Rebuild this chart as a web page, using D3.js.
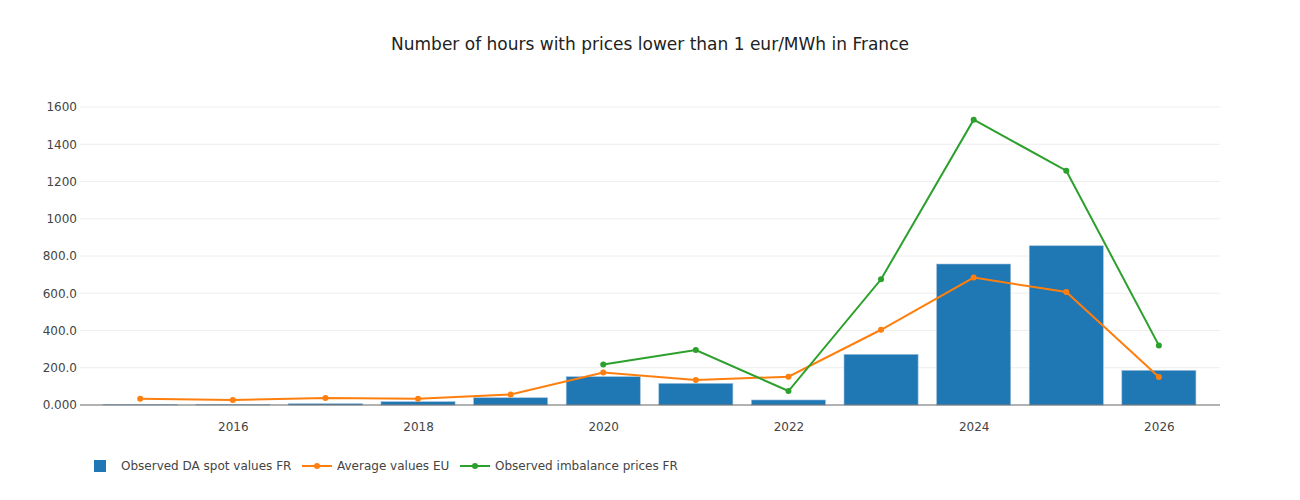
<!DOCTYPE html>
<html>
<head>
<meta charset="utf-8">
<script src="https://cdn.jsdelivr.net/npm/d3@7"></script>
<style>
  body { margin: 0; background: #fff; }
  svg text { font-family: "DejaVu Sans", Verdana, sans-serif; }
</style>
</head>
<body>
<svg id="chart" width="1300" height="500"></svg>
<script>
// data
var years = [2015, 2016, 2017, 2018, 2019, 2020, 2021, 2022, 2023, 2024, 2025, 2026];
var daSpotFR = [3, 3, 7, 18, 39, 152, 116, 27, 272, 757, 855, 186];
var averageEU = [34, 27, 38, 34, 57, 175, 134, 152, 404, 684, 607, 150];
var imbalanceFR = [null, null, null, null, null, 218, 295, 75, 675, 1532, 1258, 320];
var yTicks = [0, 200, 400, 600, 800, 1000, 1200, 1400, 1600];
var yTickLabels = ["0.000", "200.0", "400.0", "600.0", "800.0", "1000", "1200", "1400", "1600"];
var xTicks = [2016, 2018, 2020, 2022, 2024, 2026];
var seriesNames = ["Observed DA spot values FR", "Average values EU", "Observed imbalance prices FR"];
var seriesColors = ["#1f77b4", "#ff7f0e", "#2ca02c"];

var svg = d3.select("#chart")
var plotLeft = 80, plotRight = 1220, plotTop = 107, plotBottom = 405

var x = d3.scaleLinear().domain([2014.35, 2026.66]).range([plotLeft, plotRight])
var y = d3.scaleLinear().domain([0, 1600]).range([plotBottom, plotTop])

// title
svg.append("text")
    .attr("x", 650).attr("y", 50)
    .attr("text-anchor", "middle")
    .style("font-size", "17px")
    .style("fill", "#222")
    .text("Number of hours with prices lower than 1 eur/MWh in France")

// grid
svg.append("g").selectAll("line")
    .data(yTicks.slice(1))
    .enter().append("line")
    .attr("x1", plotLeft).attr("x2", plotRight)
    .attr("y1", function(d) { return y(d) })
    .attr("y2", function(d) { return y(d) })
    .attr("stroke", "#eee").attr("stroke-width", 1)

// y axis labels
var yAxis = d3.axisLeft(y).tickValues(yTicks).tickSize(0).tickPadding(3)
    .tickFormat(function(d, i) { return yTickLabels[i] })
var gy = svg.append("g").attr("transform", "translate(" + plotLeft + ",0)").call(yAxis)
gy.select(".domain").remove()
gy.selectAll("text").style("font-size", "12px").style("fill", "#444").attr("font-family", null)

// x axis labels
var xAxis = d3.axisBottom(x).tickValues(xTicks).tickSize(0).tickPadding(17)
    .tickFormat(d3.format("d"))
var gx = svg.append("g").attr("transform", "translate(0," + plotBottom + ")").call(xAxis)
gx.select(".domain").remove()
gx.selectAll("text").style("font-size", "12px").style("fill", "#444").attr("font-family", null)

// bars
var bw = x(2015.4) - x(2014.6)
svg.append("g").selectAll("rect")
    .data(years)
    .enter().append("rect")
    .attr("x", function(d) { return x(d) - bw / 2 })
    .attr("width", bw)
    .attr("y", function(d, i) { return y(daSpotFR[i]) })
    .attr("height", function(d, i) { return y(0) - y(daSpotFR[i]) })
    .attr("fill", seriesColors[0])
    .attr("stroke", "#9fc0dd").attr("stroke-width", 0.6)

// zero line
svg.append("line")
    .attr("x1", plotLeft).attr("x2", plotRight)
    .attr("y1", y(0)).attr("y2", y(0))
    .attr("stroke", "#666").attr("stroke-width", 1.2)

// lines
function drawLine(values, color) {
    var pts = years.map(function(d, i) { return [d, values[i]] })
    var line = d3.line()
        .defined(function(d) { return d[1] !== null })
        .x(function(d) { return x(d[0]) })
        .y(function(d) { return y(d[1]) })
    svg.append("path").datum(pts)
        .attr("d", line)
        .attr("fill", "none")
        .attr("stroke", color).attr("stroke-width", 2)
    svg.append("g").selectAll("circle")
        .data(pts.filter(function(d) { return d[1] !== null }))
        .enter().append("circle")
        .attr("cx", function(d) { return x(d[0]) })
        .attr("cy", function(d) { return y(d[1]) })
        .attr("r", 3)
        .attr("fill", color)
}
drawLine(averageEU, seriesColors[1])
drawLine(imbalanceFR, seriesColors[2])

// legend
var legendX = [94, 302, 460]
var legendTextX = [121, 337, 495]
var ly = 466
var legend = svg.append("g")
seriesNames.forEach(function(name, i) {
    if (i === 0) {
        legend.append("rect")
            .attr("x", legendX[i]).attr("y", ly - 6)
            .attr("width", 12).attr("height", 12)
            .attr("fill", seriesColors[i])
    } else {
        legend.append("line")
            .attr("x1", legendX[i]).attr("x2", legendX[i] + 30)
            .attr("y1", ly).attr("y2", ly)
            .attr("stroke", seriesColors[i]).attr("stroke-width", 2)
        legend.append("circle")
            .attr("cx", legendX[i] + 15).attr("cy", ly).attr("r", 3)
            .attr("fill", seriesColors[i])
    }
    legend.append("text")
        .attr("x", legendTextX[i]).attr("y", ly + 4)
        .style("font-size", "12px").style("fill", "#444")
        .text(name)
})
</script>
</body>
</html>
